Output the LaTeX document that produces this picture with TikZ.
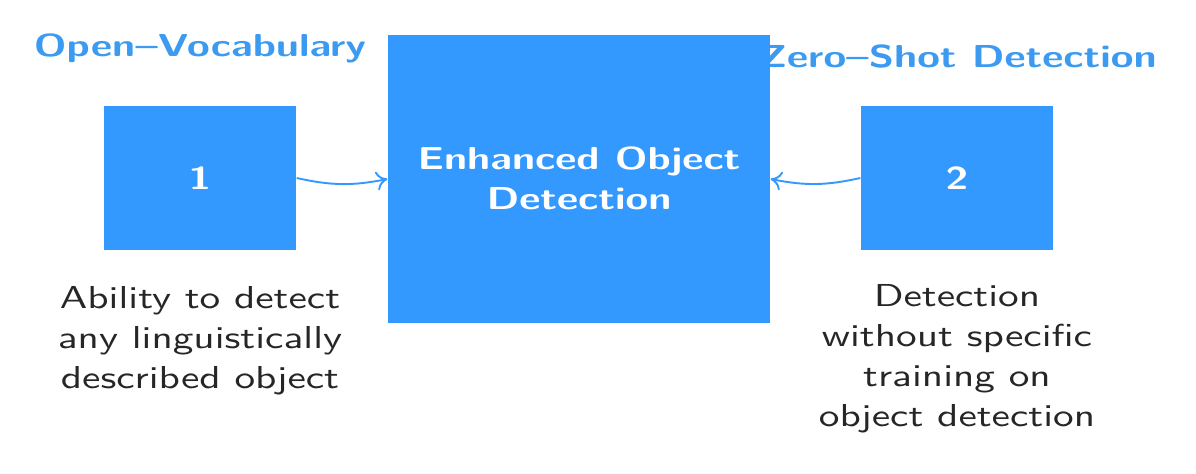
\documentclass[tikz,border=0pt]{standalone}
\usepackage{graphicx}
\usetikzlibrary{arrows.meta}
\definecolor{boxblue}{RGB}{51,153,255}
\definecolor{titleblue}{RGB}{60,155,240}
\renewcommand{\arraystretch}{1.05}
\newcommand{\wide}[1]{\scalebox{1.3}[1]{#1}}
\newcommand{\widelines}[1]{\scalebox{1.3}[1]{\begin{tabular}{@{}c@{}}#1\end{tabular}}}
\begin{document}
\begin{tikzpicture}[x=0.315pt,y=-0.315pt,
  font=\sffamily,
  bluebox/.style={fill=boxblue,draw=none,inner sep=0pt,text=white,font=\sffamily\bfseries,align=center},
  titletext/.style={text=titleblue,font=\sffamily\bfseries,inner sep=0pt,anchor=base},
  desctext/.style={text=black!85,align=center,inner sep=0pt},
  conn/.style={draw=boxblue,line width=0.6pt,-{To[length=3.5pt,width=6pt]}}]
\useasboundingbox (0,0) rectangle (1196,474);
\node[titletext] (t1) at (200,57) {\wide{Open--Vocabulary}};
\node[titletext] (t2) at (958,68) {\wide{Zero--Shot Detection}};
\node[bluebox,minimum width=60.5pt,minimum height=45.4pt] (b1) at (200,178) {\wide{1}};
\node[bluebox,minimum width=60.5pt,minimum height=45.4pt] (b2) at (957,178) {\wide{2}};
\node[bluebox,minimum width=120.3pt,minimum height=90.7pt] (c) at (579,179) {};
\node[text=white,font=\sffamily\bfseries,inner sep=0pt] (ct) at (579,182) {\widelines{Enhanced Object\\Detection}};
\node[desctext] (d1) at (200,341) {\widelines{Ability to detect\\any linguistically\\described object}};
\node[desctext] (d2) at (957,359) {\widelines{Detection\\without specific\\training on\\object detection}};
\draw[conn] (b1.east) to[bend right=12] (c.west);
\draw[conn] (b2.west) to[bend left=12] (c.east);
\end{tikzpicture}
\end{document}
